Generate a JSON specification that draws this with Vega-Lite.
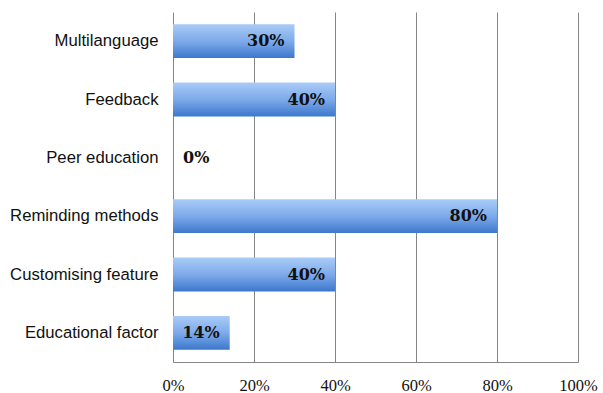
{
  "$schema": "https://vega.github.io/schema/vega-lite/v6.json",
  "width": 405,
  "height": 350,
  "autosize": {"type": "none"},
  "padding": {"left": 173, "top": 12, "right": 25, "bottom": 31},
  "background": "white",
  "config": {"view": {"stroke": null}},
  "data": {"values": [
    {"category": "Multilanguage", "value": 0.30},
    {"category": "Feedback", "value": 0.40},
    {"category": "Peer education", "value": 0.0},
    {"category": "Reminding methods", "value": 0.80},
    {"category": "Customising feature", "value": 0.40},
    {"category": "Educational factor", "value": 0.14}
  ]},
  "encoding": {
    "y": {
      "field": "category", "type": "nominal", "sort": null,
      "scale": {"paddingInner": 0.42, "paddingOuter": 0.21},
      "axis": {"title": null, "domain": false, "ticks": false, "labelPadding": 15,
               "labelFont": "Liberation Sans", "labelFontSize": 16.7, "labelColor": "#111", "labelFontWeight": "normal"}
    },
    "x": {
      "field": "value", "type": "quantitative",
      "scale": {"domain": [0, 1], "nice": false},
      "axis": {"title": null, "format": "%", "values": [0, 0.2, 0.4, 0.6, 0.8, 1],
               "grid": true, "gridColor": "#858585", "gridWidth": 1, "gridOpacity": 1,
               "domain": true, "domainColor": "#858585", "ticks": false, "labelPadding": 15,
               "labelFont": "Liberation Serif", "labelFontSize": 16.5, "labelColor": "#111",
               "labelFlush": false}
    }
  },
  "layer": [
    {
      "mark": {"type": "bar",
        "color": {"gradient": "linear", "x1": 0, "y1": 0, "x2": 0, "y2": 1,
          "stops": [{"offset": 0, "color": "#a9cbf7"}, {"offset": 0.5, "color": "#7eaaea"}, {"offset": 1, "color": "#3c78cc"}]}}
    },
    {
      "transform": [{"filter": "datum.value > 0"}],
      "mark": {"type": "text", "align": "right", "baseline": "middle", "dx": -10,
               "font": "DejaVu Serif", "fontWeight": "bold", "fontSize": 16, "color": "#111"},
      "encoding": {"text": {"field": "value", "type": "quantitative", "format": ".0%"}}
    },
    {
      "transform": [{"filter": "datum.value == 0"}],
      "mark": {"type": "text", "align": "left", "baseline": "middle", "dx": 10,
               "font": "DejaVu Serif", "fontWeight": "bold", "fontSize": 16, "color": "#111"},
      "encoding": {"text": {"field": "value", "type": "quantitative", "format": ".0%"}}
    }
  ]
}
